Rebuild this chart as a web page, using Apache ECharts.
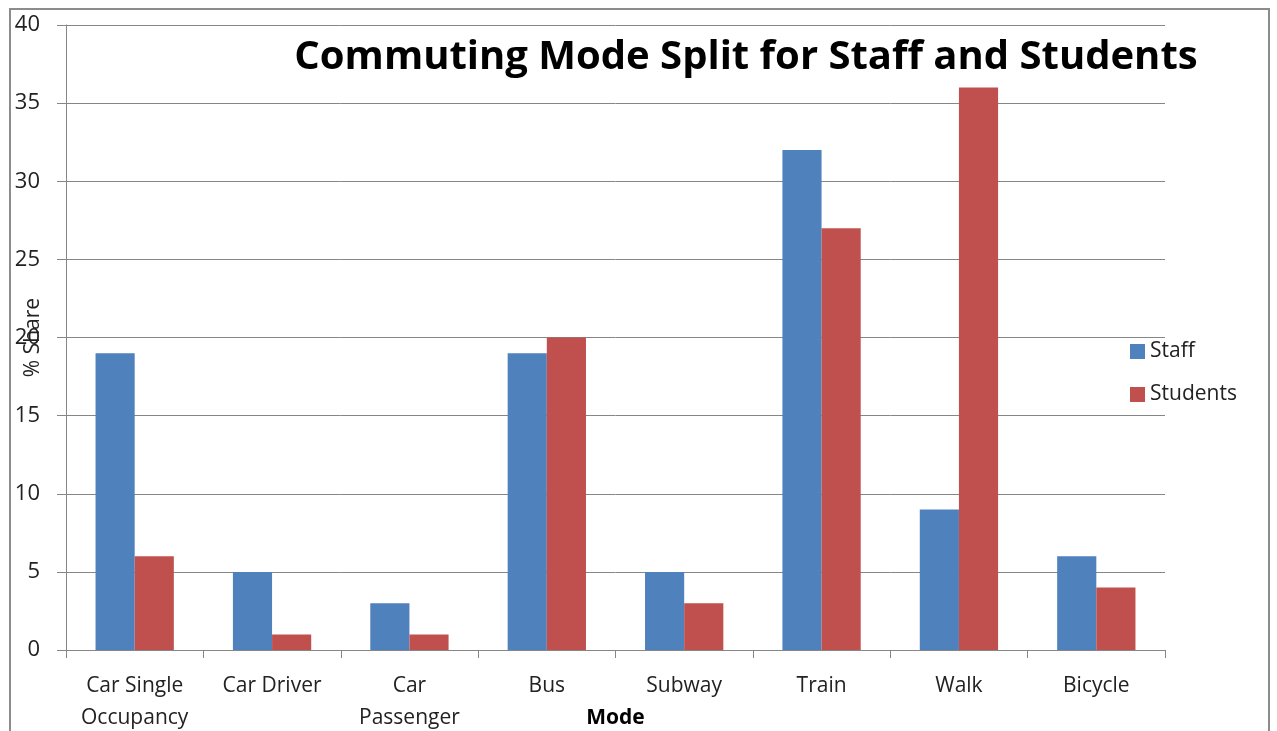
<!DOCTYPE html>
<html>
<head>
<meta charset="utf-8">
<script src="https://cdn.jsdelivr.net/npm/echarts@6/dist/echarts.min.js"></script>
<style>
  html, body { margin: 0; padding: 0; background: #fff; }
  #chart { width: 1277px; height: 731px; }
</style>
</head>
<body>
<div id="chart"></div>
<script>
  // data
  let modes = ['Car Single\nOccupancy', 'Car Driver', 'Car\nPassenger', 'Bus', 'Subway', 'Train', 'Walk', 'Bicycle'];
  let staff = [19, 5, 3, 19, 5, 32, 9, 6];
  let students = [6, 1, 1, 20, 3, 27, 36, 4];

  let font = '"Open Sans", "Noto Sans", sans-serif';
  let chart = echarts.init(document.getElementById('chart'));
  chart.setOption({
    animation: false,
    textStyle: { fontFamily: font },
    title: {
      text: 'Commuting Mode Split for Staff and Students',
      left: 741,
      top: 33,
      textAlign: 'center',
      textStyle: { fontSize: 40, fontWeight: 'bold', color: '#000', fontFamily: font }
    },
    legend: {
      orient: 'vertical',
      left: 1125,
      top: 336,
      itemWidth: 15,
      itemHeight: 15,
      itemGap: 22,
      icon: 'rect',
      textStyle: { fontSize: 21, color: '#222' },
      data: ['Staff', 'Students']
    },
    graphic: [{
      type: 'rect',
      shape: { x: 10, y: 9, width: 1259, height: 740 },
      style: { fill: 'none', stroke: '#8c8c8c', lineWidth: 2 }
    }],
    grid: { left: 66, right: 112, top: 25, bottom: 81, outerBoundsMode: 'none', containLabel: false },
    xAxis: {
      type: 'category',
      data: modes,
      name: 'Mode',
      nameLocation: 'middle',
      nameGap: 58,
      nameMoveOverlap: false,
      nameTextStyle: { fontSize: 21, fontWeight: 'bold', color: '#000' },
      axisLine: { lineStyle: { color: '#868686', width: 1 } },
      axisTick: { show: true, length: 8, lineStyle: { color: '#868686' } },
      axisLabel: { interval: 0, fontSize: 21, color: '#222', lineHeight: 32, margin: 20 }
    },
    yAxis: {
      type: 'value',
      min: 0,
      max: 40,
      interval: 5,
      name: '% Share',
      nameLocation: 'middle',
      nameGap: 22,
      nameMoveOverlap: false,
      nameTextStyle: { fontSize: 21, color: '#222' },
      axisLine: { show: true, lineStyle: { color: '#868686' } },
      axisTick: { show: true, length: 9, lineStyle: { color: '#868686' } },
      axisLabel: { fontSize: 22, color: '#222', margin: 26 },
      splitLine: { lineStyle: { color: '#868686', width: 1 } }
    },
    series: [
      {
        name: 'Staff',
        type: 'bar',
        data: staff,
        barWidth: '28.5%',
        barGap: '0%',
        itemStyle: { color: '#4F81BD' }
      },
      {
        name: 'Students',
        type: 'bar',
        data: students,
        barWidth: '28.5%',
        itemStyle: { color: '#C0504D' }
      }
    ]
  });
</script>
</body>
</html>
